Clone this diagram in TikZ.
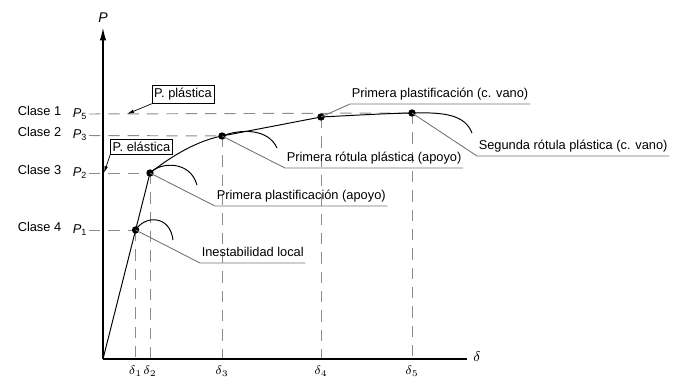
\documentclass[tikz,border=0pt]{standalone}
\usepackage{fontspec}
\setmainfont{Liberation Sans}
\usetikzlibrary{arrows.meta}
\definecolor{leadgray}{gray}{0.45}
\definecolor{dashgray}{gray}{0.55}
\begin{document}
\begin{tikzpicture}[x=0.02cm,y=-0.02cm,
  txt/.style={font=\fontsize{7.3}{8}\selectfont, inner sep=0.8pt},
  lbl/.style={txt, text depth=0.25em, anchor=south west},
  boxlbl/.style={txt, draw, line width=0.4pt, inner xsep=1.2pt, inner ysep=1.6pt},
  axis/.style={line width=0.6pt},
  curve/.style={line width=0.55pt},
  guide/.style={dashgray, line width=0.55pt, dash pattern=on 6.5pt off 4.5pt},
  leader/.style={leadgray, line width=0.5pt},
  pointer/.style={line width=0.4pt, -{Latex[length=4pt,width=2pt]}},
  dot/.style={circle, fill, inner sep=0pt, minimum size=4.2pt}
]
\useasboundingbox (0,0) rectangle (676,379);

% key points
\coordinate (O) at (103,359);
\coordinate (A) at (135.6,230);
\coordinate (B) at (150,173);
\coordinate (C) at (222,136);
\coordinate (D) at (321,117);
\coordinate (E) at (412,113);

% guide lines
\draw[guide] (89,114) -- (E);
\draw[guide] (89,135.5) -- (C);
\draw[guide] (89,173) -- (B);
\draw[guide] (89,230) -- (A);
\foreach \p in {A,B,C,D,E}{
  \draw[guide] (\p) -- (\p |- O);
}

% axes
\coordinate (Ytop) at (103,28);
\coordinate (Xend) at (467,359);
\draw[axis, -{Latex[length=7pt,width=3.6pt]}] (O) -- (Ytop);
\draw[axis] (O) -- (Xend);
\node[txt, font=\fontsize{8}{9}\selectfont\itshape] (Plab) at (103,18) {P};
\node[txt, font=\fontsize{8}{9}\selectfont] (dlab) at (477,356.5) {$\delta$};

% main curve
\draw[curve] (O) -- (A) -- (B)
  .. controls (164,162) and (192,141.7) .. (C)
  -- (D) .. controls (360,115) and (385,113.5) .. (E)
  .. controls (445,112) and (465,115) .. (472,133);

% local instability arcs
\draw[curve] (A) .. controls (145,215) and (170,215) .. (173,240);
\draw[curve] (B) .. controls (160,162) and (190,160) .. (197,185);
\draw[curve] (C) .. controls (240,129) and (268,128) .. (277,148);

% dots
\foreach \p in {A,B,C,D,E}{ \node[dot] at (\p) {}; }

% leaders and labels
\node[lbl] (tA) at (200,263) {Inestabilidad local};
\draw[leader] (A) -- (tA.south west) -- (tA.south east);
\node[lbl] (tB) at (215,206) {Primera plastificación (apoyo)};
\draw[leader] (B) -- (tB.south west) -- (tB.south east);
\node[lbl] (tC) at (285,168) {Primera rótula plástica (apoyo)};
\draw[leader] (C) -- (tC.south west) -- (tC.south east);
\node[lbl] (tD) at (350,104) {Primera plastificación (c. vano)};
\draw[leader] (D) -- (tD.south west) -- (tD.south east);
\node[lbl] (tE) at (477,156) {Segunda rótula plástica (c. vano)};
\draw[leader] (E) -- (tE.south west) -- (tE.south east);

% boxed labels with pointers
\node[boxlbl] (pp) at (183,94.5) {P. plástica};
\coordinate (ppTip) at (127,114);
\draw[pointer] (pp.south west) -- (ppTip);
\node[boxlbl] (pe) at (141.5,146.5) {P. elástica};
\coordinate (peTip) at (104,173);
\draw[pointer] (pe.south west) -- (peTip);

% left labels
\node[txt, anchor=west] (c1) at (16,110.5) {Clase 1};
\node[txt, anchor=west] (c2) at (16,131.5) {Clase 2};
\node[txt, anchor=west] (c3) at (16,169.5) {Clase 3};
\node[txt, anchor=west] (c4) at (16,226.5) {Clase 4};
\node[txt, anchor=west] (p5) at (71,114) {\textit{P}\textsubscript{5}};
\node[txt, anchor=west] (p3) at (71,135.5) {\textit{P}\textsubscript{3}};
\node[txt, anchor=west] (p2) at (71,173) {\textit{P}\textsubscript{2}};
\node[txt, anchor=west] (p1) at (71,230) {\textit{P}\textsubscript{1}};

% delta labels
\node[txt] (d1) at (A |- 0,371) {$\delta_1$};
\node[txt] (d2) at (B |- 0,371) {$\delta_2$};
\node[txt] (d3) at (C |- 0,371) {$\delta_3$};
\node[txt] (d4) at (D |- 0,371) {$\delta_4$};
\node[txt] (d5) at (E |- 0,371) {$\delta_5$};
\end{tikzpicture}
\end{document}
